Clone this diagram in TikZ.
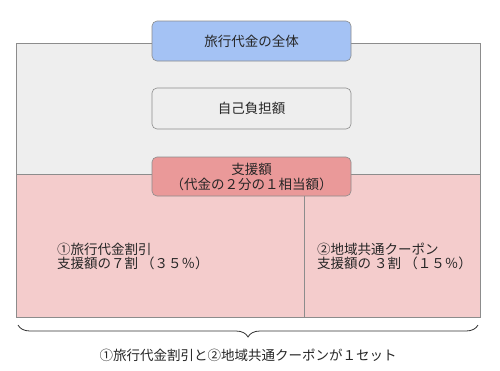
\documentclass[tikz,border=0pt]{standalone}
\usepackage{fontspec}
\setmainfont{Noto Sans CJK JP}
\usepackage{tikz}
\usetikzlibrary{positioning, calc, decorations.pathreplacing}

\definecolor{hdblue}{HTML}{A4C2F4}
\definecolor{hdred}{HTML}{EA9999}
\definecolor{bgpink}{HTML}{F4CCCC}
\definecolor{bggray}{HTML}{EEEEEE}
\definecolor{edgegray}{HTML}{8C8C8C}

\begin{document}
\begin{tikzpicture}[
    x=1pt, y=-1pt,
    every node/.style={font=\fontsize{13.5}{13.5}\selectfont, text=black!85},
    box/.style={draw=edgegray, line width=0.6pt, rectangle, rounded corners=5pt, minimum height=40pt, minimum width=199pt, align=center, inner sep=0pt},
    area/.style={draw=edgegray, line width=0.8pt},
    note/.style={align=left, anchor=west, inner sep=0pt}
]
\useasboundingbox (0,0) rectangle (500,370);

% background areas
\fill[bggray] (16,43) rectangle (480,174);
\fill[bgpink] (16,174) rectangle (480,317);
\draw[area] (16,174) -- (16,43) -- (480,43) -- (480,174);
\draw[area] (16,174) -- (16,317) -- (480,317) -- (480,174);
\draw[area] (16,174) -- (480,174);
\draw[edgegray, line width=0.6pt] (304,196) -- (304,317);

% boxes
\node[box, fill=hdblue] (total) at (251.5,41) {旅行代金の全体};
\node[box, fill=bggray, minimum height=41pt] (self) at (251.5,108.5) {自己負担額};
\node[box, fill=hdred, minimum height=39pt, font=\fontsize{13.5}{15}\selectfont] (aid) at (251.5,176.5) {支援額\\（代金の２分の１相当額）};

% parts
\node[note] (disc) at (57,256.5) {①旅行代金割引\\支援額の７割 （３５％）};
\node[note] (coupon) at (317,256.5) {②地域共通クーポン\\支援額の ３割 （１５％）};

% brace
\coordinate (bl) at (18,325);
\coordinate (br) at (478,325);
\draw[black!80, line width=0.8pt, decorate, decoration={brace, mirror, amplitude=12pt}] (bl) -- (br);
\node (set) at (248,355) {①旅行代金割引と②地域共通クーポンが１セット};

\end{tikzpicture}
\end{document}
